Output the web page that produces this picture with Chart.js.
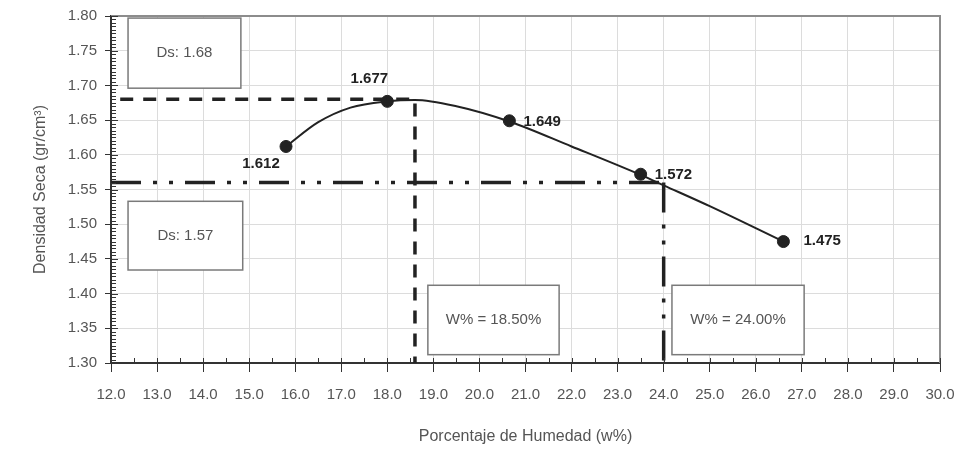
<!DOCTYPE html>
<html>
<head>
<meta charset="utf-8">
<script src="https://cdn.jsdelivr.net/npm/chart.js@4.4.1/dist/chart.umd.min.js"></script>
<style>
  html, body { margin: 0; padding: 0; background: #fff; }
  #wrap { width: 958px; height: 455px; }
</style>
</head>
<body>
<div id="wrap"><canvas id="myChart" width="958" height="455"></canvas></div>
<script>
// puntos del ensayo proctor
var humedad = [15.8, 18.0, 20.65, 23.5, 26.6];
var densidad = [1.612, 1.677, 1.649, 1.572, 1.475];
var etiquetas = ['1.612', '1.677', '1.649', '1.572', '1.475'];

// curva ajustada
var curvaX = [15.8, 16.5, 17.2, 18.0, 18.6, 19.5, 20.65, 22.0, 23.5, 24.0, 25.0, 26.6];
var curvaY = [1.612, 1.647, 1.668, 1.677, 1.679, 1.670, 1.648, 1.612, 1.571, 1.556, 1.526, 1.475];

// lineas guia
var dsMaxX = [12.2, 18.6, 18.6];
var dsMaxY = [1.68, 1.68, 1.30];
var ds95X = [12.0, 24.0, 24.0];
var ds95Y = [1.56, 1.56, 1.30];

var cajaTextos = ['Ds: 1.68', 'Ds: 1.57', 'W% = 18.50%', 'W% = 24.00%'];

var xMin = 12, xMax = 30, yMin = 1.30, yMax = 1.80;

function toPts(xs, ys){
	var out = [];
	for(var i = 0; i < xs.length; i++){
		out.push({x: xs[i], y: ys[i]});
	}
	return out;
}

// cajas en unidades de los ejes [x1, x2, y1, y2]
var cajas = [
	[12.37, 14.82, 1.797, 1.696],
	[12.37, 14.86, 1.533, 1.434],
	[18.88, 21.73, 1.412, 1.312],
	[24.18, 27.05, 1.412, 1.312]
];
// desplazamiento de las etiquetas [dx, dy, align]
var labelPos = [
	[-25, 17, 'center'],
	[-18, -23, 'center'],
	[14, 1, 'left'],
	[14, 1, 'left'],
	[20, -1, 'left']
];

var decor = {
	id: 'decor',
	afterDatasetsDraw: function(chart){
		var ctx = chart.ctx;
		var a = chart.chartArea;
		var xs = chart.scales.x, ys = chart.scales.y;
		ctx.save();
		// marco superior y derecho
		ctx.strokeStyle = '#8c8c8c';
		ctx.lineWidth = 2;
		ctx.beginPath();
		ctx.moveTo(a.left, a.top);
		ctx.lineTo(a.right, a.top);
		ctx.lineTo(a.right, a.bottom);
		ctx.stroke();

		// ticks menores
		ctx.strokeStyle = '#333';
		ctx.lineWidth = 1;
		ctx.beginPath();
		for(var v = xMin; v <= xMax + 0.001; v += 0.5){
			var px = Math.round(xs.getPixelForValue(v)) + 0.5;
			ctx.moveTo(px, a.bottom - 5);
			ctx.lineTo(px, a.bottom);
		}
		for(var k = 0; k <= 100; k++){
			var py = Math.round(ys.getPixelForValue(yMin + k * 0.005)) + 0.5;
			var len = (k % 10 == 0) ? 7 : 5;
			ctx.moveTo(a.left, py);
			ctx.lineTo(a.left + len, py);
		}
		ctx.stroke();

		// cajas
		ctx.font = '15px "Liberation Sans", Arial, sans-serif';
		ctx.textAlign = 'center';
		ctx.textBaseline = 'middle';
		for(var i = 0; i < cajas.length; i++){
			var c = cajas[i];
			var x1 = xs.getPixelForValue(c[0]), x2 = xs.getPixelForValue(c[1]);
			var y1 = ys.getPixelForValue(c[2]), y2 = ys.getPixelForValue(c[3]);
			ctx.fillStyle = '#fff';
			ctx.fillRect(x1, y1, x2 - x1, y2 - y1);
			ctx.strokeStyle = '#7a7a7a';
			ctx.lineWidth = 1.5;
			ctx.strokeRect(x1, y1, x2 - x1, y2 - y1);
			ctx.fillStyle = '#555';
			ctx.fillText(cajaTextos[i], (x1 + x2) / 2, (y1 + y2) / 2);
		}

		// etiquetas de los puntos
		var meta = chart.getDatasetMeta(4);
		ctx.font = 'bold 15px "Liberation Sans", Arial, sans-serif';
		ctx.fillStyle = '#222';
		for(var j = 0; j < meta.data.length; j++){
			var el = meta.data[j];
			ctx.textAlign = labelPos[j][2];
			ctx.fillText(etiquetas[j], el.x + labelPos[j][0], el.y + labelPos[j][1]);
		}
		ctx.restore();
	}
};

Chart.defaults.font.family = '"Liberation Sans", Arial, sans-serif';
Chart.defaults.color = '#555';

var rayaPunto = [30, 12, 4, 12, 4, 12];

var chart = new Chart(document.getElementById('myChart'), {
	type: 'scatter',
	data: {
		datasets: [{
			data: toPts(dsMaxX, dsMaxY),
			showLine: true,
			borderColor: '#222',
			borderWidth: 3.5,
			borderDash: [13, 10],
			pointRadius: 0
		}, {
			// tramo horizontal
			data: toPts(ds95X.slice(0, 2), ds95Y.slice(0, 2)),
			showLine: true,
			borderColor: '#222',
			borderWidth: 3.5,
			borderDash: rayaPunto,
			pointRadius: 0
		}, {
			// tramo vertical
			data: toPts(ds95X.slice(1), ds95Y.slice(1)),
			showLine: true,
			borderColor: '#222',
			borderWidth: 3.5,
			borderDash: rayaPunto,
			pointRadius: 0
		}, {
			data: toPts(curvaX, curvaY),
			showLine: true,
			borderColor: '#222',
			borderWidth: 2,
			tension: 0.4,
			cubicInterpolationMode: 'monotone',
			pointRadius: 0
		}, {
			data: toPts(humedad, densidad),
			showLine: false,
			backgroundColor: '#222',
			borderColor: '#222',
			pointRadius: 6,
			pointHoverRadius: 6
		}]
	},
	options: {
		responsive: false,
		animation: false,
		events: [],
		layout: { padding: { top: 16, right: 18, left: 0, bottom: 0 } },
		plugins: { legend: { display: false }, tooltip: { enabled: false } },
		scales: {
			x: {
				type: 'linear',
				min: xMin,
				max: xMax,
				ticks: {
					stepSize: 1,
					color: '#555',
					font: { size: 15 },
					padding: 14,
					maxRotation: 0,
					callback: function(v){ return v.toFixed(1); }
				},
				grid: { color: '#dcdcdc', lineWidth: 1, tickColor: '#333', tickLength: 9 },
				border: { color: '#333', width: 2 },
				title: {
					display: true,
					text: 'Porcentaje de Humedad (w%)',
					color: '#555',
					font: { size: 16 },
					padding: { top: 0, bottom: 9 }
				},
				afterFit: function(scale){
					scale.height = 92;
					scale.paddingLeft = 0;
					scale.paddingRight = 0;
				}
			},
			y: {
				type: 'linear',
				min: yMin,
				max: yMax,
				ticks: {
					stepSize: 0.05,
					color: '#555',
					font: { size: 15 },
					padding: 8,
					callback: function(v){ return v.toFixed(2); }
				},
				grid: { color: '#dcdcdc', lineWidth: 1, tickColor: '#333', tickLength: 6 },
				border: { color: '#333', width: 2 },
				title: {
					display: true,
					text: 'Densidad Seca (gr/cm³)',
					color: '#555',
					font: { size: 16 },
					padding: { top: 31, bottom: 0 }
				},
				afterFit: function(scale){
					scale.width = 111;
					scale.paddingTop = 0;
					scale.paddingBottom = 0;
				}
			}
		}
	},
	plugins: [decor]
});
</script>
</body>
</html>
